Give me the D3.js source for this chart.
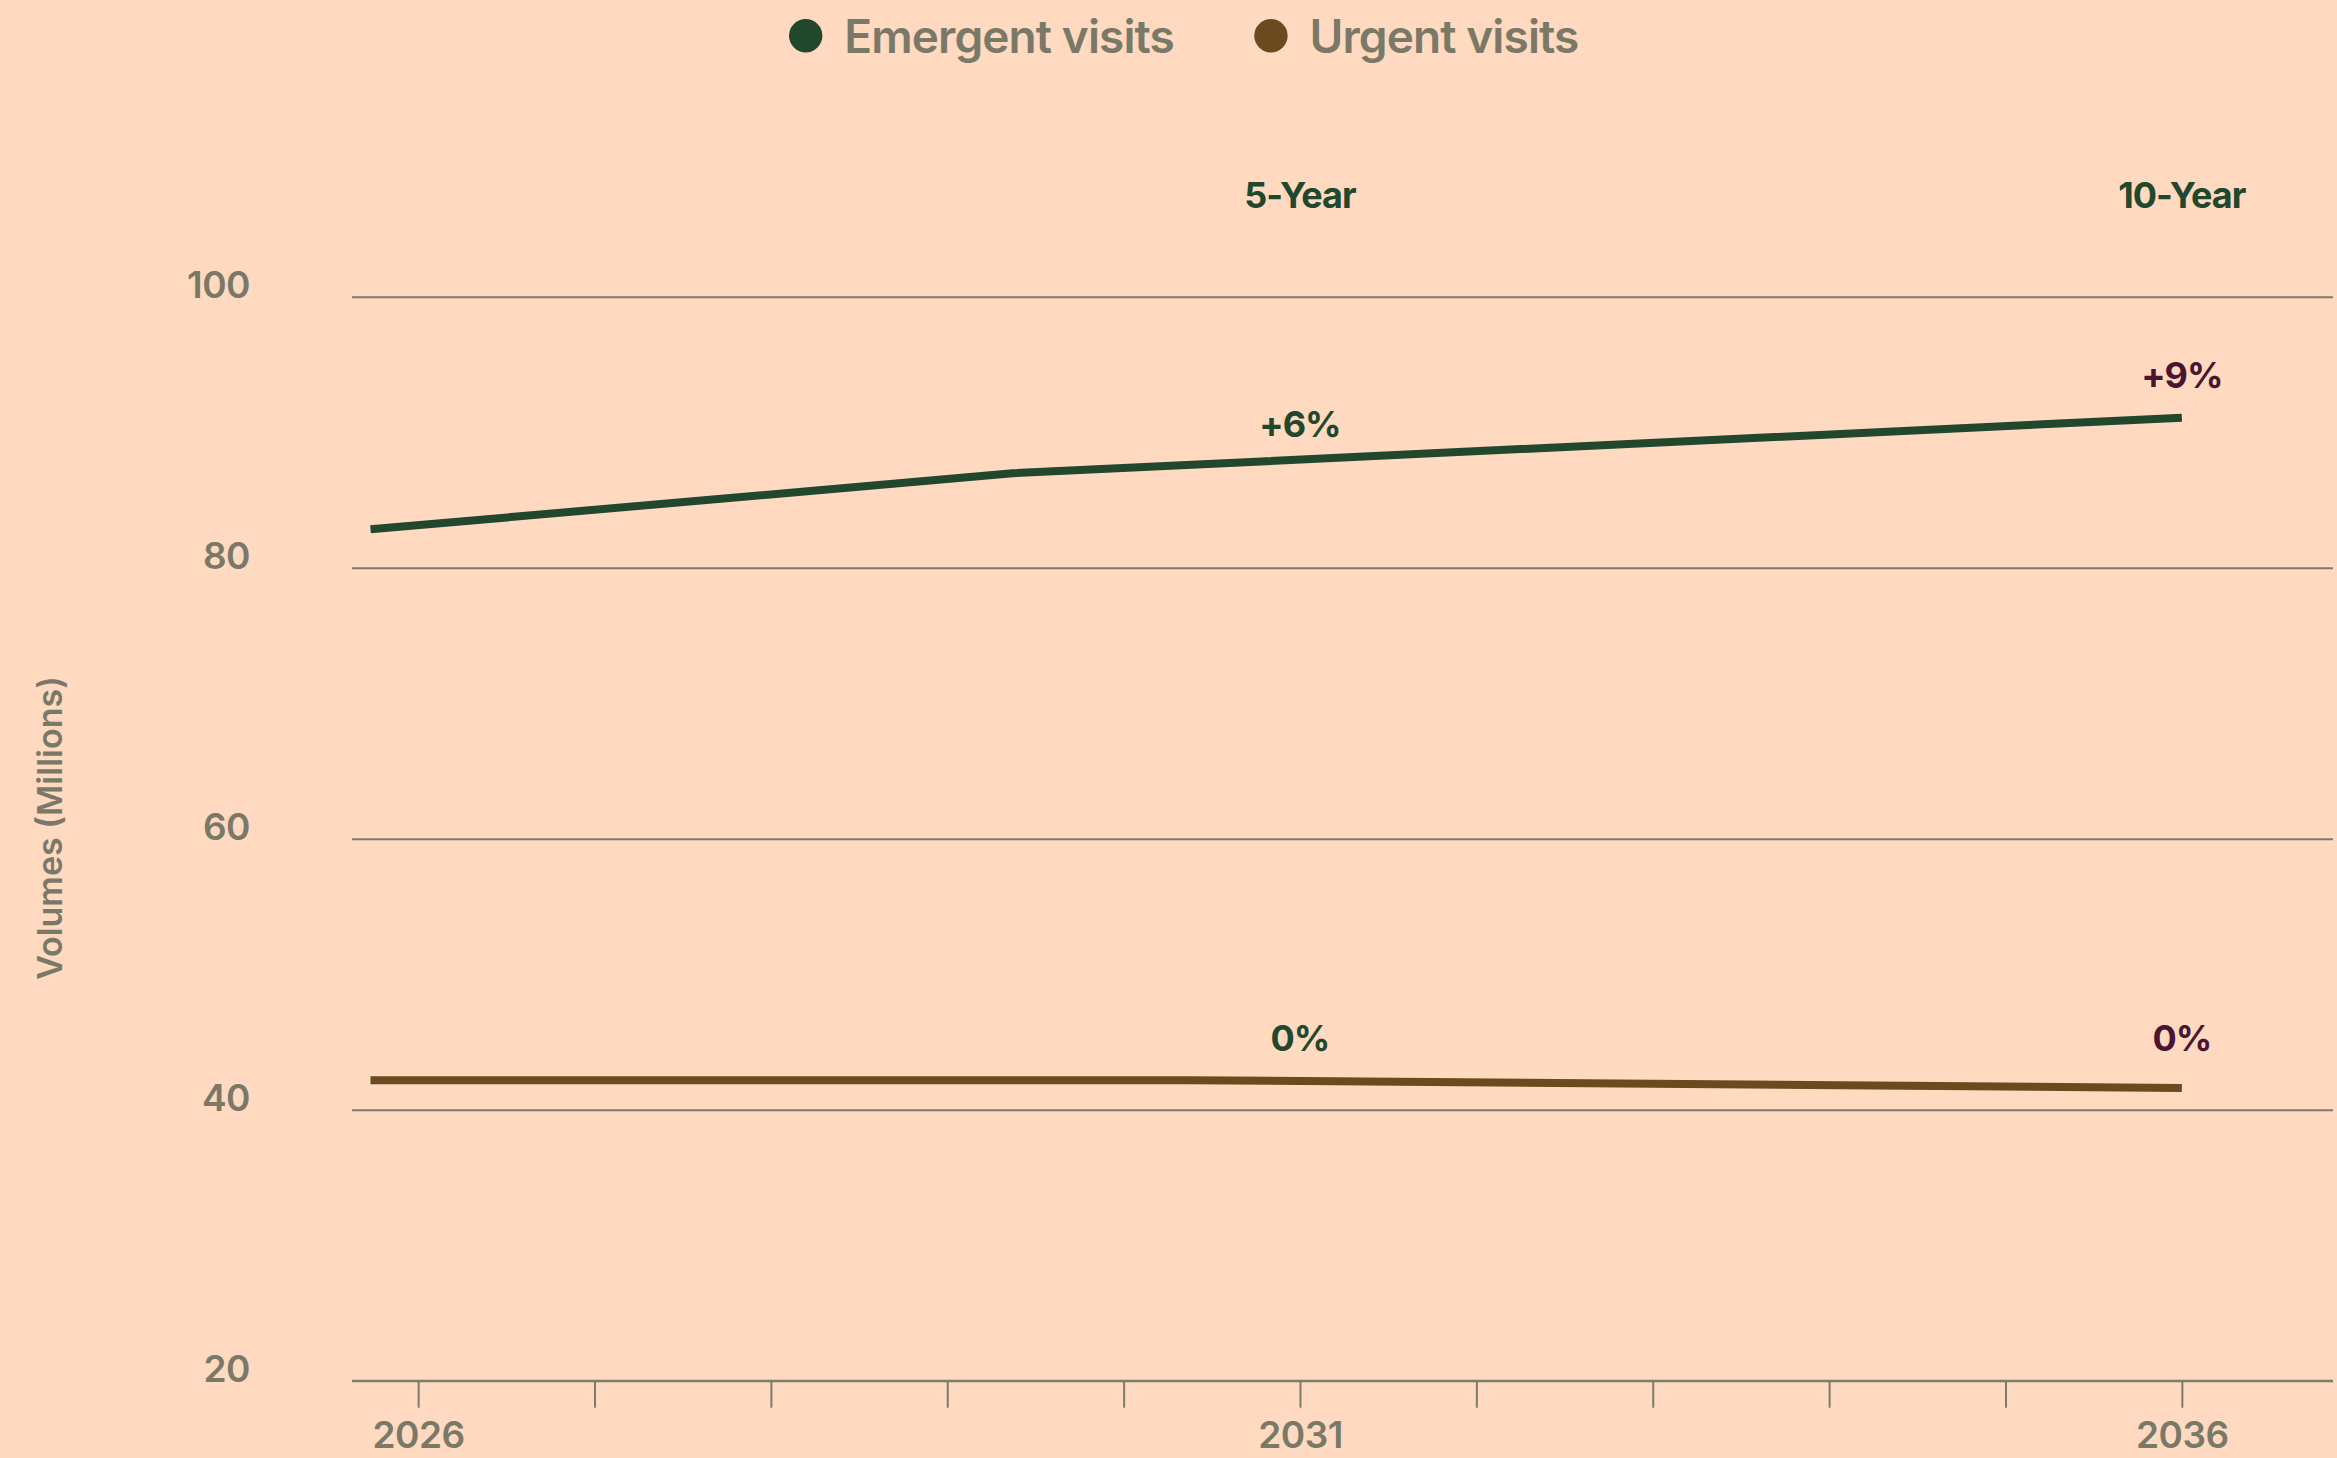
<!DOCTYPE html>
<html>
<head>
<meta charset="utf-8">
<script src="https://cdn.jsdelivr.net/npm/d3@7"></script>
<style>
  html, body { margin: 0; padding: 0; background: #FFD9C0; }
  svg { display: block; }
  text { font-family: Inter, "Noto Sans", sans-serif; }
</style>
</head>
<body>
<svg id="chart" width="2337" height="1458"></svg>
<script>
// ---- data ----
const seriesNames = ["Emergent visits", "Urgent visits"];
const emergentYears = [2025.73, 2029.37, 2036];
const emergentValues = [82.83, 86.97, 91.07];
const urgentYears = [2025.73, 2030.37, 2036];
const urgentValues = [42.18, 42.18, 41.61];
const xTickValues = [2026, 2027, 2028, 2029, 2030, 2031, 2032, 2033, 2034, 2035, 2036];
const xTickLabels = ["2026", "", "", "", "", "2031", "", "", "", "", "2036"];
const yTickValues = [20, 40, 60, 80, 100];
const periodLabels = ["5-Year", "10-Year"];
const periodYears = [2031, 2036];
const emergentChangeLabels = ["+6%", "+9%"];
const emergentChangeAnchors = [89.65, 93.26];
const urgentChangeLabels = ["0%", "0%"];
const urgentChangeAnchors = [44.34, 44.34];

// ---- styling ----
const colors = { emergent: "#21472D", urgent: "#6A4B1F", maroon: "#4A1530", grid: "#7E7B6B", text: "#7A7968" };

const svg = d3.select("#chart");
const W = 2337, H = 1458;
svg.append("rect").attr("width", W).attr("height", H).attr("fill", "#FFD9C0");

const plotLeft = 352, plotRight = 2333, plotTop = 296.7, plotBottom = 1380.7;
const x = d3.scaleLinear().domain([2025.625, 2036.857]).range([plotLeft, plotRight]);
const y = d3.scaleLinear().domain([20, 100]).range([plotBottom, plotTop]);

// gridlines + y labels
const yAxis = d3.axisLeft(y).tickValues(yTickValues).tickSize(-(plotRight - plotLeft)).tickPadding(102).tickFormat(d3.format("d"));
const gy = svg.append("g").attr("transform", `translate(${plotLeft},0)`).call(yAxis);
gy.select(".domain").remove();
gy.selectAll(".tick line").attr("stroke", colors.grid).attr("stroke-width", 2);
gy.selectAll(".tick text")
  .attr("dy", "0.03em")
  .attr("fill", colors.text)
  .attr("font-size", 37)
  .attr("font-weight", 600)
  .attr("letter-spacing", "-0.5px")
  .attr("font-family", "Inter, sans-serif");

// x axis
const xAxis = d3.axisBottom(x).tickValues(xTickValues).tickSize(27).tickPadding(40.6)
  .tickFormat((d, i) => xTickLabels[i]);
const gx = svg.append("g").attr("transform", `translate(0,${plotBottom})`).call(xAxis);
gx.select(".domain").attr("stroke", colors.grid).attr("stroke-width", 2)
  .attr("d", `M${plotLeft},0H${plotRight}`);
gx.selectAll(".tick line").attr("stroke", colors.grid).attr("stroke-width", 2);
gx.selectAll(".tick text")
  .attr("dy", "0")
  .attr("fill", colors.text)
  .attr("font-size", 37)
  .attr("font-weight", 600)
  .attr("letter-spacing", "-0.5px")
  .attr("font-family", "Inter, sans-serif");

// lines
const line = d3.line().x(d => x(d[0])).y(d => y(d[1]));
svg.append("path")
  .datum(emergentYears.map((yr, i) => [yr, emergentValues[i]]))
  .attr("d", line).attr("fill", "none").attr("stroke", colors.emergent).attr("stroke-width", 8);
svg.append("path")
  .datum(urgentYears.map((yr, i) => [yr, urgentValues[i]]))
  .attr("d", line).attr("fill", "none").attr("stroke", colors.urgent).attr("stroke-width", 8);

// period headers
svg.selectAll(".period").data(periodLabels).join("text")
  .attr("x", (d, i) => x(periodYears[i]))
  .attr("y", 208)
  .attr("text-anchor", "middle")
  .attr("fill", colors.emergent)
  .attr("font-size", 36)
  .attr("font-weight", 700)
  .attr("letter-spacing", "-1px")
  .text(d => d);

// change labels
const labelColors = [colors.emergent, colors.maroon];
svg.selectAll(".echg").data(emergentChangeLabels).join("text")
  .attr("x", (d, i) => x(periodYears[i]))
  .attr("y", (d, i) => y(emergentChangeAnchors[i]))
  .attr("text-anchor", "middle")
  .attr("fill", (d, i) => labelColors[i])
  .attr("font-size", 36)
  .attr("font-weight", 700)
  .attr("letter-spacing", "-1px")
  .text(d => d);
svg.selectAll(".uchg").data(urgentChangeLabels).join("text")
  .attr("x", (d, i) => x(periodYears[i]))
  .attr("y", (d, i) => y(urgentChangeAnchors[i]))
  .attr("text-anchor", "middle")
  .attr("fill", (d, i) => labelColors[i])
  .attr("font-size", 36)
  .attr("font-weight", 700)
  .attr("letter-spacing", "-1px")
  .text(d => d);

// y-axis title
svg.append("text")
  .attr("transform", `translate(62,828) rotate(-90)`)
  .attr("text-anchor", "middle")
  .attr("fill", colors.text)
  .attr("font-size", 34)
  .attr("font-weight", 600)
  .text("Volumes (Millions)");

// legend
const legendColors = [colors.emergent, colors.urgent];
let lx = 805.7;
seriesNames.forEach((name, i) => {
  svg.append("circle").attr("cx", lx).attr("cy", 35.7).attr("r", 16.7).attr("fill", legendColors[i]);
  const t = svg.append("text")
    .attr("x", lx + 38.6).attr("y", 52.7)
    .attr("fill", colors.text)
    .attr("font-size", 46)
    .attr("font-weight", 600)
    .attr("letter-spacing", "-0.9px")
    .text(name);
  lx = lx + 38.6 + t.node().getComputedTextLength() + 97;
});
</script>
</body>
</html>
